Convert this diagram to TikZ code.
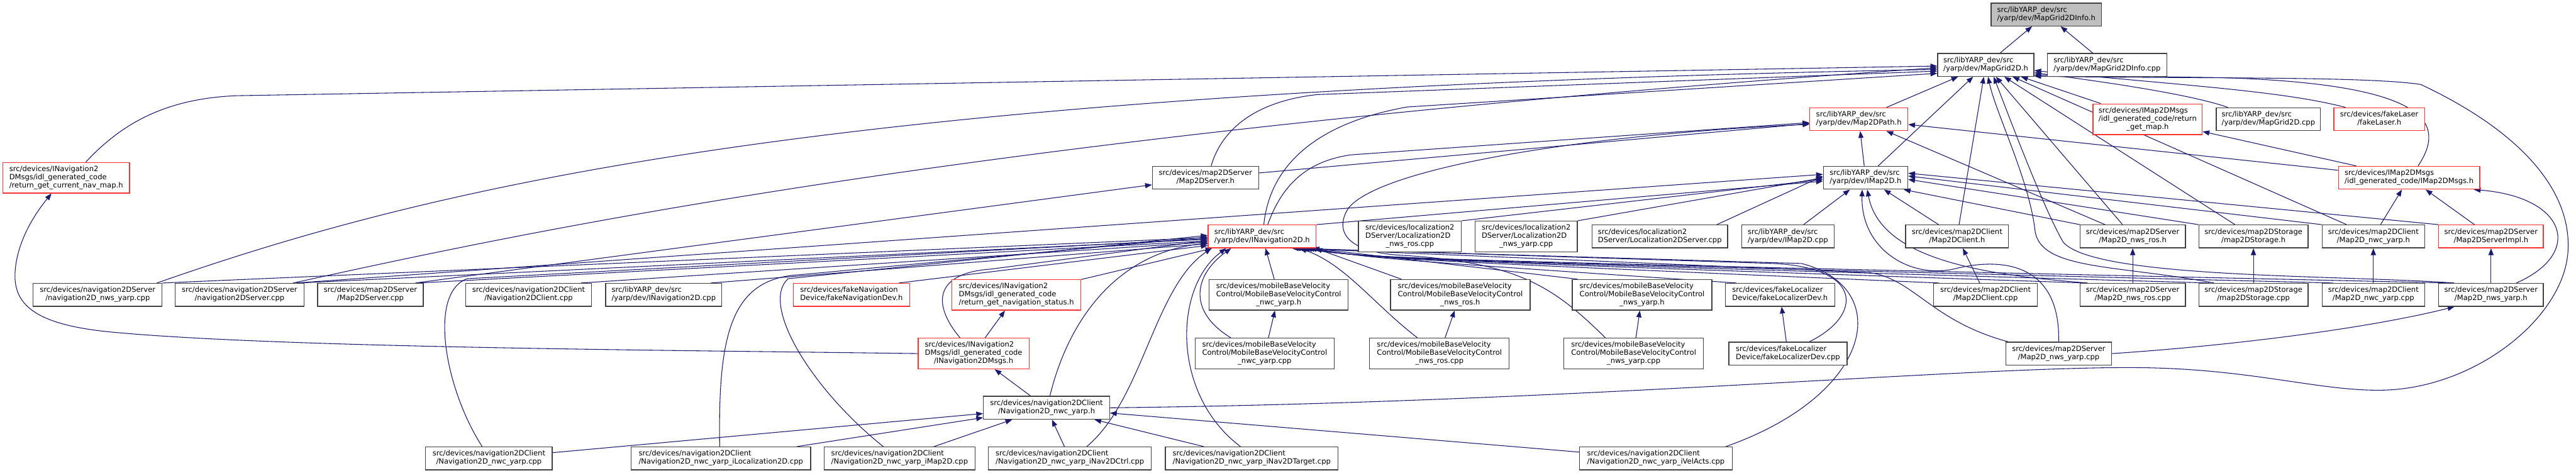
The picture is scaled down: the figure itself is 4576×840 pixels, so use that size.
\documentclass[tikz,border=0pt]{standalone}
\usepackage{fontspec}
\setmainfont{DejaVu Sans}
\usetikzlibrary{arrows.meta}
\definecolor{edgeblue}{RGB}{25,25,112}
\definecolor{boxgray}{RGB}{64,64,64}
\definecolor{boxred}{RGB}{250,50,50}
\definecolor{rootfill}{RGB}{191,191,191}
\pgfdeclarelayer{bg}
\pgfsetlayers{bg,main}
\newcommand{\dlab}[2]{\begin{tabular}{@{}l@{}}#1\\\multicolumn{1}{@{}c@{}}{#2}\end{tabular}}
\newcommand{\Tyd}{src/libYARP\_dev/src}
\newcommand{\Tmbv}{src/devices/mobileBaseVelocity\\Control/MobileBaseVelocityControl}
\newcommand{\Tnvm}{src/devices/INavigation2\\DMsgs/idl\_generated\_code}
\newcommand{\Tnvc}{src/devices/navigation2DClient}
\newcommand{\Tloc}{src/devices/localization2\\DServer/Localization2D}
\tikzset{
  nbox/.style={draw=boxgray, line width=1.5pt, fill=white, inner xsep=4pt, inner ysep=1pt,
    minimum height=40.6pt, font={\fontsize{12.9}{14.5}\selectfont}},
  nred/.style={nbox, draw=boxred},
  three/.style={minimum height=54.3pt},
  lnk/.style={draw=edgeblue, line width=1.2pt, -{Triangle[length=12pt,width=9pt]}}
}
\begin{document}
\begin{tikzpicture}[x=1pt,y=1pt]
\useasboundingbox (0,0) rectangle (4576,840);
% rank 1
\node[nbox, fill=rootfill, minimum width=196pt] (n0) at (3635,814.2) {\dlab{\Tyd}{/yarp/dev/MapGrid2DInfo.h}};
% rank 2
\node[nbox, minimum width=171pt] (n1) at (3527.5,724.7) {\dlab{\Tyd}{/yarp/dev/MapGrid2D.h}};
\node[nbox, minimum width=212pt] (n2) at (3743,724.7) {\dlab{\Tyd}{/yarp/dev/MapGrid2DInfo.cpp}};
% rank 3
\node[nred, minimum width=174pt] (n3) at (3302,628.2) {\dlab{\Tyd}{/yarp/dev/Map2DPath.h}};
\node[nred, three, minimum width=194pt] (n4) at (3815,628.2) {\dlab{src/devices/IMap2DMsgs\\/idl\_generated\_code/return}{\_get\_map.h}};
\node[nbox, minimum width=185pt] (n5) at (4029.5,628.2) {\dlab{\Tyd}{/yarp/dev/MapGrid2D.cpp}};
\node[nred, minimum width=161pt] (n6) at (4226.5,628.2) {\dlab{src/devices/fakeLaser}{/fakeLaser.h}};
% rank 4
\node[nred, three, minimum width=225pt] (n7) at (117.5,524.3) {\dlab{\Tnvm}{/return\_get\_current\_nav\_map.h}};
\node[nbox, minimum width=189pt] (n8) at (2141.5,524.3) {\dlab{src/devices/map2DServer}{/Map2DServer.h}};
\node[nbox, minimum width=150pt] (n9) at (3314,524.3) {\dlab{\Tyd}{/yarp/dev/IMap2D.h}};
\node[nred, minimum width=251pt] (n10) at (4279.5,524.3) {\dlab{src/devices/IMap2DMsgs}{/idl\_generated\_code/IMap2DMsgs.h}};
% rank 5
\node[nred, minimum width=192pt] (n11) at (2242,420) {\dlab{\Tyd}{/yarp/dev/INavigation2D.h}};
\node[nbox, three, minimum width=183pt] (n12) at (2504.5,420) {\dlab{\Tloc}{\_nws\_ros.cpp}};
\node[nbox, three, minimum width=182pt] (n13) at (2711,420) {\dlab{\Tloc}{\_nws\_yarp.cpp}};
\node[nbox, minimum width=241pt] (n14) at (2948.5,420) {\dlab{src/devices/localization2}{DServer/Localization2DServer.cpp}};
\node[nbox, minimum width=164pt] (n15) at (3176,420) {\dlab{\Tyd}{/yarp/dev/IMap2D.cpp}};
\node[nbox, minimum width=183pt] (n16) at (3476.5,420) {\dlab{src/devices/map2DClient}{/Map2DClient.h}};
\node[nbox, minimum width=187pt] (n17) at (3788.5,420) {\dlab{src/devices/map2DServer}{/Map2D\_nws\_ros.h}};
\node[nbox, minimum width=194pt] (n18) at (4003,420) {\dlab{src/devices/map2DStorage}{/map2DStorage.h}};
\node[nbox, minimum width=182pt] (n19) at (4216,420) {\dlab{src/devices/map2DClient}{/Map2D\_nwc\_yarp.h}};
\node[nred, minimum width=186pt] (n20) at (4425,420) {\dlab{src/devices/map2DServer}{/Map2DServerImpl.h}};
% rank 6
\node[nbox, minimum width=229pt] (n21) at (173.5,316.3) {\dlab{src/devices/navigation2DServer}{/navigation2D\_nws\_yarp.cpp}};
\node[nbox, minimum width=229pt] (n22) at (425.5,316.3) {\dlab{src/devices/navigation2DServer}{/navigation2DServer.cpp}};
\node[nbox, minimum width=188pt] (n23) at (658,316.3) {\dlab{src/devices/map2DServer}{/Map2DServer.cpp}};
\node[nbox, minimum width=224pt] (n24) at (939,316.3) {\dlab{\Tnvc}{/Navigation2DClient.cpp}};
\node[nbox, minimum width=206pt] (n25) at (1179,316.3) {\dlab{\Tyd}{/yarp/dev/INavigation2D.cpp}};
\node[nred, minimum width=207pt] (n26) at (1512.5,316.3) {\dlab{src/devices/fakeNavigation}{Device/fakeNavigationDev.h}};
\node[nred, three, minimum width=229pt] (n27) at (1805.5,316.3) {\dlab{\Tnvm}{/return\_get\_navigation\_status.h}};
\node[nbox, three, minimum width=247pt] (n28) at (2271.5,316.3) {\dlab{\Tmbv}{\_nwc\_yarp.h}};
\node[nbox, three, minimum width=248pt] (n29) at (2594,316.3) {\dlab{\Tmbv}{\_nws\_ros.h}};
\node[nbox, three, minimum width=248pt] (n30) at (2917,316.3) {\dlab{\Tmbv}{\_nws\_yarp.h}};
\node[nbox, minimum width=194pt] (n31) at (3162,316.3) {\dlab{src/devices/fakeLocalizer}{Device/fakeLocalizerDev.h}};
\node[nbox, minimum width=184pt] (n32) at (3527,316.3) {\dlab{src/devices/map2DClient}{/Map2DClient.cpp}};
\node[nbox, minimum width=187pt] (n33) at (3788.5,316.3) {\dlab{src/devices/map2DServer}{/Map2D\_nws\_ros.cpp}};
\node[nbox, minimum width=194pt] (n34) at (4003,316.3) {\dlab{src/devices/map2DStorage}{/map2DStorage.cpp}};
\node[nbox, minimum width=182pt] (n35) at (4216,316.3) {\dlab{src/devices/map2DClient}{/Map2D\_nwc\_yarp.cpp}};
\node[nbox, minimum width=186pt] (n36) at (4425,316.3) {\dlab{src/devices/map2DServer}{/Map2D\_nws\_yarp.h}};
% rank 7
\node[nred, three, minimum width=197pt] (n37) at (1729.5,212) {\dlab{\Tnvm}{/INavigation2DMsgs.h}};
\node[nbox, three, minimum width=247pt] (n38) at (2246.5,212) {\dlab{\Tmbv}{\_nwc\_yarp.cpp}};
\node[nbox, three, minimum width=248pt] (n39) at (2557,212) {\dlab{\Tmbv}{\_nws\_ros.cpp}};
\node[nbox, three, minimum width=248pt] (n40) at (2902,212) {\dlab{\Tmbv}{\_nws\_yarp.cpp}};
\node[nbox, minimum width=210pt] (n41) at (3176,212) {\dlab{src/devices/fakeLocalizer}{Device/fakeLocalizerDev.cpp}};
\node[nbox, minimum width=188pt] (n42) at (3657,212) {\dlab{src/devices/map2DServer}{/Map2D\_nws\_yarp.cpp}};
% rank 8
\node[nbox, minimum width=224pt] (n43) at (1859,115.7) {\dlab{\Tnvc}{/Navigation2D\_nwc\_yarp.h}};
% rank 9
\node[nbox, minimum width=225pt] (n44) at (868.5,25.8) {\dlab{\Tnvc}{/Navigation2D\_nwc\_yarp.cpp}};
\node[nbox, minimum width=319pt] (n45) at (1280.5,25.8) {\dlab{\Tnvc}{/Navigation2D\_nwc\_yarp\_iLocalization2D.cpp}};
\node[nbox, minimum width=268pt] (n46) at (1598,25.8) {\dlab{\Tnvc}{/Navigation2D\_nwc\_yarp\_iMap2D.cpp}};
\node[nbox, minimum width=289pt] (n47) at (1900.5,25.8) {\dlab{\Tnvc}{/Navigation2D\_nwc\_yarp\_iNav2DCtrl.cpp}};
\node[nbox, minimum width=307pt] (n48) at (2223.5,25.8) {\dlab{\Tnvc}{/Navigation2D\_nwc\_yarp\_iNav2DTarget.cpp}};
\node[nbox, minimum width=271pt] (n49) at (2941.5,25.8) {\dlab{\Tnvc}{/Navigation2D\_nwc\_yarp\_iVelActs.cpp}};

\begin{pgfonlayer}{bg}
\fill[white] (0,0) rectangle (4576,840);
% straight connectors
\foreach \a/\b in {n1/n0,n2/n0,n3/n1,n4/n1,n9/n1,n16/n1,n17/n1,n18/n1,n19/n1,n9/n3,n10/n3,n17/n3,n8/n3,n10/n4,n15/n9,n16/n9,n20/n10,n19/n10,n27/n11,n28/n11,n38/n28,n39/n29,n40/n30,n41/n31,n32/n16,n33/n17,n34/n18,n35/n19,n36/n20,n37/n27,n43/n37,n44/n43,n45/n43,n46/n43,n47/n43,n48/n43,n49/n43}
  {\draw[lnk] (\a) -- (\b);}
% into MapGrid2D.h
\draw[lnk] ([xshift=35pt]n7.north) .. controls (220,625) and (300,665) .. (420,670) -- ([yshift=-2pt]n1.west);
\draw[lnk] ([xshift=-10pt]n21.north east) .. controls (800,520) and (1500,680) .. ([yshift=-8pt]n1.west);
\draw[lnk] ([xshift=-20pt]n22.north east) .. controls (900,420) and (1700,600) .. ([yshift=-5pt]n1.west);
\draw[lnk] ([xshift=10pt]n8.north) .. controls (2170,610) and (2230,660) .. (2340,672) -- ([yshift=-11pt]n1.west);
\draw[lnk] ([xshift=3pt]n11.north) .. controls (2255,540) and (2330,620) .. (2500,650) -- ([yshift=-15pt]n1.west);
\draw[lnk] ([xshift=16pt]n10.north) .. controls (4345,620) and (4320,690) .. (3950,702) -- ([yshift=-18pt]n1.east);
\draw[lnk] ([xshift=-72pt]n5.north) .. controls (3900,670) and (3760,692) .. ([yshift=-14pt]n1.east);
\draw[lnk] ([xshift=-60pt]n6.north) .. controls (4050,680) and (3850,690) .. ([yshift=-10pt]n1.east);
\draw[lnk] (n43.east) .. controls (2800,125) and (3500,190) .. (3800,187)
  .. controls (4000,185) and (4120,145) .. (4232,147)
  .. controls (4400,150) and (4560,280) .. (4562,400)
  .. controls (4565,520) and (4450,620) .. (4300,690)
  .. controls (4200,705) and (3900,700) .. ([yshift=-20pt]n1.east);
\draw[lnk] ([xshift=-70pt]n34.north) .. controls (3760,370) and (3625,360) .. (3615,430)
  .. controls (3605,520) and (3545,640) .. ([xshift=4pt]n1.south);
\draw[lnk] ([xshift=-65pt]n36.north) .. controls (4150,352) and (3720,345) .. (3665,410)
  .. controls (3630,470) and (3570,630) .. ([xshift=14pt]n1.south);
% into Map2DPath.h
\draw[lnk] ([xshift=10pt]n11.north) .. controls (2280,520) and (2330,555) .. (2400,565) -- ([yshift=-6pt]n3.west);
\draw[lnk] ([xshift=-50pt]n40.north) .. controls (2760,330) and (2700,372) .. (2500,386)
  .. controls (2390,390) and (2370,430) .. (2395,470)
  .. controls (2450,540) and (2800,600) .. ([yshift=-9pt]n3.west);
% into IMap2D.h
\draw[lnk] (n11.north east) -- ([yshift=-6pt]n9.west);
\draw[lnk] (n12.north east) -- ([yshift=-3pt]n9.west);
\draw[lnk] (n13.north east) -- ([yshift=0pt]n9.west);
\draw[lnk] ([xshift=-20pt]n14.north east) -- ([yshift=3pt]n9.west);
\draw[lnk] ([xshift=-15pt]n22.north east) -- ([yshift=6pt]n9.west);
\draw[lnk] (n20.north west) -- ([yshift=8pt]n9.east);
\draw[lnk] (n19.north west) -- ([yshift=3pt]n9.east);
\draw[lnk] (n18.north west) -- ([yshift=-3pt]n9.east);
\draw[lnk] (n17.north west) -- ([xshift=-8pt]n9.south east);
\draw[lnk] ([xshift=-80pt]n33.north) .. controls (3520,352) and (3340,380) .. ([xshift=3pt]n9.south);
\draw[lnk] (n42.north) .. controls (3660,370) and (3560,385) .. (3470,362)
  .. controls (3390,345) and (3305,400) .. ([xshift=-6pt]n9.south);
% into IMap2DMsgs.h and Map2D_nws_yarp.h
\draw[lnk] ([xshift=45pt]n36.north) .. controls (4590,390) and (4560,490) .. ([xshift=115pt]n10.south);
\draw[lnk] (n42.east) .. controls (3950,225) and (4200,255) .. ([xshift=-65pt]n36.south);
% into Map2DServer.h
\draw[lnk] ([xshift=-15pt]n23.north east) -- (n8);
% into return_get_current_nav_map.h
\draw[lnk] (n37.west) .. controls (1200,218) and (500,222) .. (200,250)
  .. controls (60,263) and (22,300) .. (27,360)
  .. controls (32,420) and (70,470) .. ([xshift=-26pt]n7.south);
% into INavigation2D.h from the left
\draw[lnk] (n21.north east) -- ([yshift=-2pt]n11.west);
\draw[lnk] ([xshift=-10pt]n22.north east) -- ([yshift=-5pt]n11.west);
\draw[lnk] ([xshift=-10pt]n23.north east) -- ([yshift=-8pt]n11.west);
\draw[lnk] ([xshift=-20pt]n24.north east) -- ([yshift=-10pt]n11.west);
\draw[lnk] ([xshift=-20pt]n25.north east) -- ([yshift=-13pt]n11.west);
\draw[lnk] ([xshift=-20pt]n26.north east) -- ([yshift=-16pt]n11.west);
\draw[lnk] ([xshift=-12pt]n44.north) .. controls (790,150) and (760,320) .. (830,345) -- ([yshift=-4pt]n11.west);
\draw[lnk] ([xshift=-2pt]n45.north) .. controls (1275,250) and (1300,345) .. (1420,352) -- ([yshift=-1pt]n11.west);
\draw[lnk] ([xshift=-29pt]n46.north) .. controls (1440,150) and (1350,300) .. (1400,345) -- ([yshift=2pt]n11.west);
\draw[lnk] ([xshift=-24pt]n37.north) .. controls (1655,300) and (1660,355) .. (1760,362) -- ([yshift=-7pt]n11.west);
\draw[lnk] ([xshift=6pt]n43.north) .. controls (1900,280) and (1990,392) .. ([yshift=-12pt]n11.west);
% into INavigation2D.h from below
\draw[lnk] ([xshift=30pt]n47.north) .. controls (2030,130) and (2050,330) .. ([xshift=-90pt]n11.south);
\draw[lnk] ([xshift=-20pt]n48.north) .. controls (2080,140) and (2085,330) .. ([xshift=-64pt]n11.south);
\draw[lnk] ([xshift=-60pt]n38.north) .. controls (2105,290) and (2125,355) .. ([xshift=-55pt]n11.south);
\draw[lnk] ([xshift=-39pt]n39.north) .. controls (2440,300) and (2390,370) .. ([xshift=67pt]n11.south);
\draw[lnk] ([xshift=20pt]n29.north west) -- ([xshift=-2pt]n11.south east);
\draw[lnk] ([xshift=10pt]n30.north west) -- ([xshift=-7pt]n11.south east);
% into INavigation2D.h from the right
\draw[lnk] ([xshift=20pt]n31.north west) .. controls (2450,380) .. ([xshift=-12pt]n11.south east);
\draw[lnk] ([xshift=10pt]n32.north west) .. controls (2450,380) .. ([xshift=-16pt]n11.south east);
\draw[lnk] ([xshift=10pt]n33.north west) .. controls (2450,380) .. ([xshift=-20pt]n11.south east);
\draw[lnk] ([xshift=20pt]n34.north west) .. controls (2450,380) .. ([xshift=-24pt]n11.south east);
\draw[lnk] ([xshift=20pt]n35.north west) .. controls (2450,380) .. ([xshift=-28pt]n11.south east);
\draw[lnk] ([xshift=20pt]n36.north west) .. controls (2450,380) .. ([xshift=-32pt]n11.south east);
\draw[lnk] ([xshift=38pt]n41.north) .. controls (3310,280) and (3310,365) .. (3150,372) -- ([xshift=-36pt]n11.south east);
\draw[lnk] ([xshift=-90pt]n42.north) .. controls (3430,270) and (3400,345) .. (3320,356) -- ([xshift=-40pt]n11.south east);
\draw[lnk] ([xshift=-12pt]n49.north east) .. controls (3330,140) and (3365,330) .. (3200,372) -- ([xshift=-44pt]n11.south east);
\end{pgfonlayer}
\end{tikzpicture}
\end{document}
